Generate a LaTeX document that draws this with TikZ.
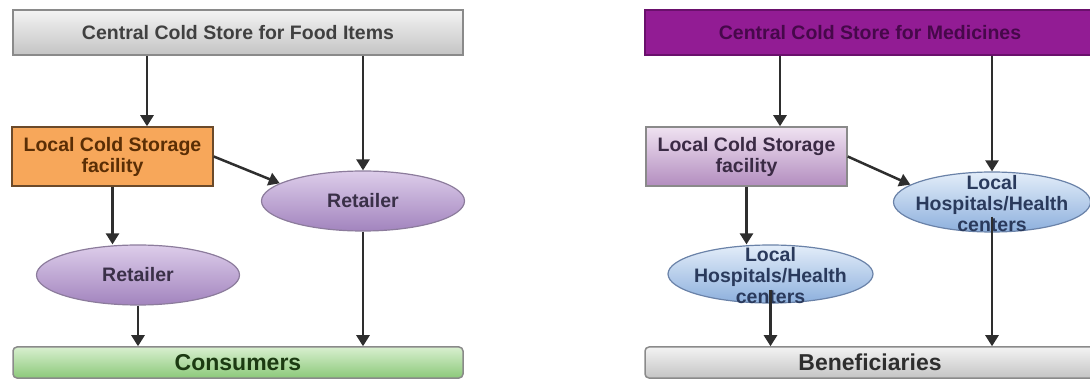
\documentclass[tikz,border=0pt]{standalone}
\usepackage{fontspec}
\setmainfont{Liberation Sans}
\usepackage{tikz}
\usepackage{xcolor}
\usetikzlibrary{arrows.meta,shapes.geometric}

\definecolor{arrowgray}{HTML}{2E2E2E}
\definecolor{storeTop}{HTML}{F3F3F3}
\definecolor{storeBot}{HTML}{C4C4C4}
\definecolor{storeLine}{HTML}{8A8A8A}
\definecolor{localOrange}{HTML}{F7A75A}
\definecolor{localOrangeLine}{HTML}{6B4A2A}
\definecolor{retTop}{HTML}{DDCDEA}
\definecolor{retBot}{HTML}{A284BE}
\definecolor{retLine}{HTML}{8C7C9C}
\definecolor{consTop}{HTML}{D8EFCF}
\definecolor{consBot}{HTML}{8CC97A}
\definecolor{medPurple}{HTML}{921C94}
\definecolor{medPurpleLine}{HTML}{6A106C}
\definecolor{medLocalTop}{HTML}{EFE2F1}
\definecolor{medLocalBot}{HTML}{B38DBF}
\definecolor{hospTop}{HTML}{E3EDF9}
\definecolor{hospBot}{HTML}{8DB0DD}
\definecolor{hospLine}{HTML}{6A82A8}

\begin{document}
\begin{tikzpicture}[x=1pt, y=-1pt,
        txt/.style={font=\bfseries\fontsize{19.5}{21}\selectfont, align=center},
        bigtxt/.style={font=\bfseries\fontsize{23}{25}\selectfont},
        wide box/.style={rectangle, draw=storeLine, line width=1.5pt, inner sep=0pt,
            minimum width=450pt, minimum height=45pt, txt},
        local box/.style={rectangle, line width=1.5pt, inner sep=0pt,
            minimum width=201pt, minimum height=59pt, txt},
        oval/.style={ellipse, line width=1.2pt, inner sep=0pt,
            minimum width=203pt, minimum height=60pt, txt},
        end box/.style={rectangle, rounded corners=4pt, draw=storeLine, line width=1.5pt,
            inner sep=0pt, minimum width=450pt, minimum height=31pt, bigtxt},
        arr/.style={draw=arrowgray, line width=2.5pt, -{Triangle[width=13pt,length=11pt]}}
    ]
    \useasboundingbox (0,0) rectangle (1090,379);

    % food items
    \node[wide box, top color=storeTop, bottom color=storeBot, text=black!75] (foodStore) at (238,32.5) {Central Cold Store for Food Items};
    \node[local box, fill=localOrange, draw=localOrangeLine, text={rgb,255:red,90;green,46;blue,5}] (foodLocal) at (112.5,156.5) {Local Cold Storage\\facility};
    \node[oval, top color=retTop, bottom color=retBot, draw=retLine, text={rgb,255:red,58;green,48;blue,72}] (foodRetA) at (363,201) {Retailer};
    \node[oval, top color=retTop, bottom color=retBot, draw=retLine, text={rgb,255:red,58;green,48;blue,72}] (foodRetB) at (138,275) {Retailer};
    \node[end box, top color=consTop, bottom color=consBot, text={rgb,255:red,28;green,58;blue,18}] (consumers) at (238,362.5) {Consumers};

    \coordinate (foodIn) at ([xshift=34.5pt]foodLocal.north);
    \draw[arr] (foodStore.south -| foodIn) -- (foodIn);
    \draw[arr] (foodStore.south -| foodRetA) -- (foodRetA.north);
    \draw[arr] (foodLocal.east) -- (foodRetA.168);
    \draw[arr] (foodLocal.south) -- (foodLocal.south |- foodRetB.north);
    \draw[arr] (foodRetB.south) -- (foodRetB.south |- consumers.north);
    \draw[arr] (foodRetA.south) -- (foodRetA.south |- consumers.north);

    % medicines
    \node[wide box, fill=medPurple, draw=medPurpleLine, text={rgb,255:red,70;green,8;blue,74}] (medStore) at (870,32.5) {Central Cold Store for Medicines};
    \node[local box, top color=medLocalTop, bottom color=medLocalBot, draw=storeLine, text={rgb,255:red,58;green,42;blue,68}] (medLocal) at (746.5,156.5) {Local Cold Storage\\facility};
    \node[oval, minimum width=197pt, top color=hospTop, bottom color=hospBot, draw=hospLine] (hospA) at (992,202) {};
    \node[txt, text={rgb,255:red,42;green,58;blue,92}] (hospALabel) at (992,204) {Local\\Hospitals/Health\\centers};
    \node[oval, minimum width=205pt, minimum height=58pt, top color=hospTop, bottom color=hospBot, draw=hospLine] (hospB) at (770.5,274) {};
    \node[txt, text={rgb,255:red,42;green,58;blue,92}] (hospBLabel) at (770.5,276) {Local\\Hospitals/Health\\centers};
    \node[end box, top color=storeTop, bottom color=storeBot, text=black!82] (benef) at (870,362.5) {Beneficiaries};

    \coordinate (medIn) at ([xshift=33.5pt]medLocal.north);
    \draw[arr] (medStore.south -| medIn) -- (medIn);
    \draw[arr] (medStore.south -| hospA) -- (hospA.north);
    \draw[arr] (medLocal.east) -- (hospA.168);
    \draw[arr] (medLocal.south) -- (medLocal.south |- hospB.north);
    \draw[arr] ([yshift=14pt]hospB.south) -- (hospB.south |- benef.north);
    \draw[arr] ([yshift=16pt]hospA.south) -- (hospA.south |- benef.north);
\end{tikzpicture}
\end{document}
